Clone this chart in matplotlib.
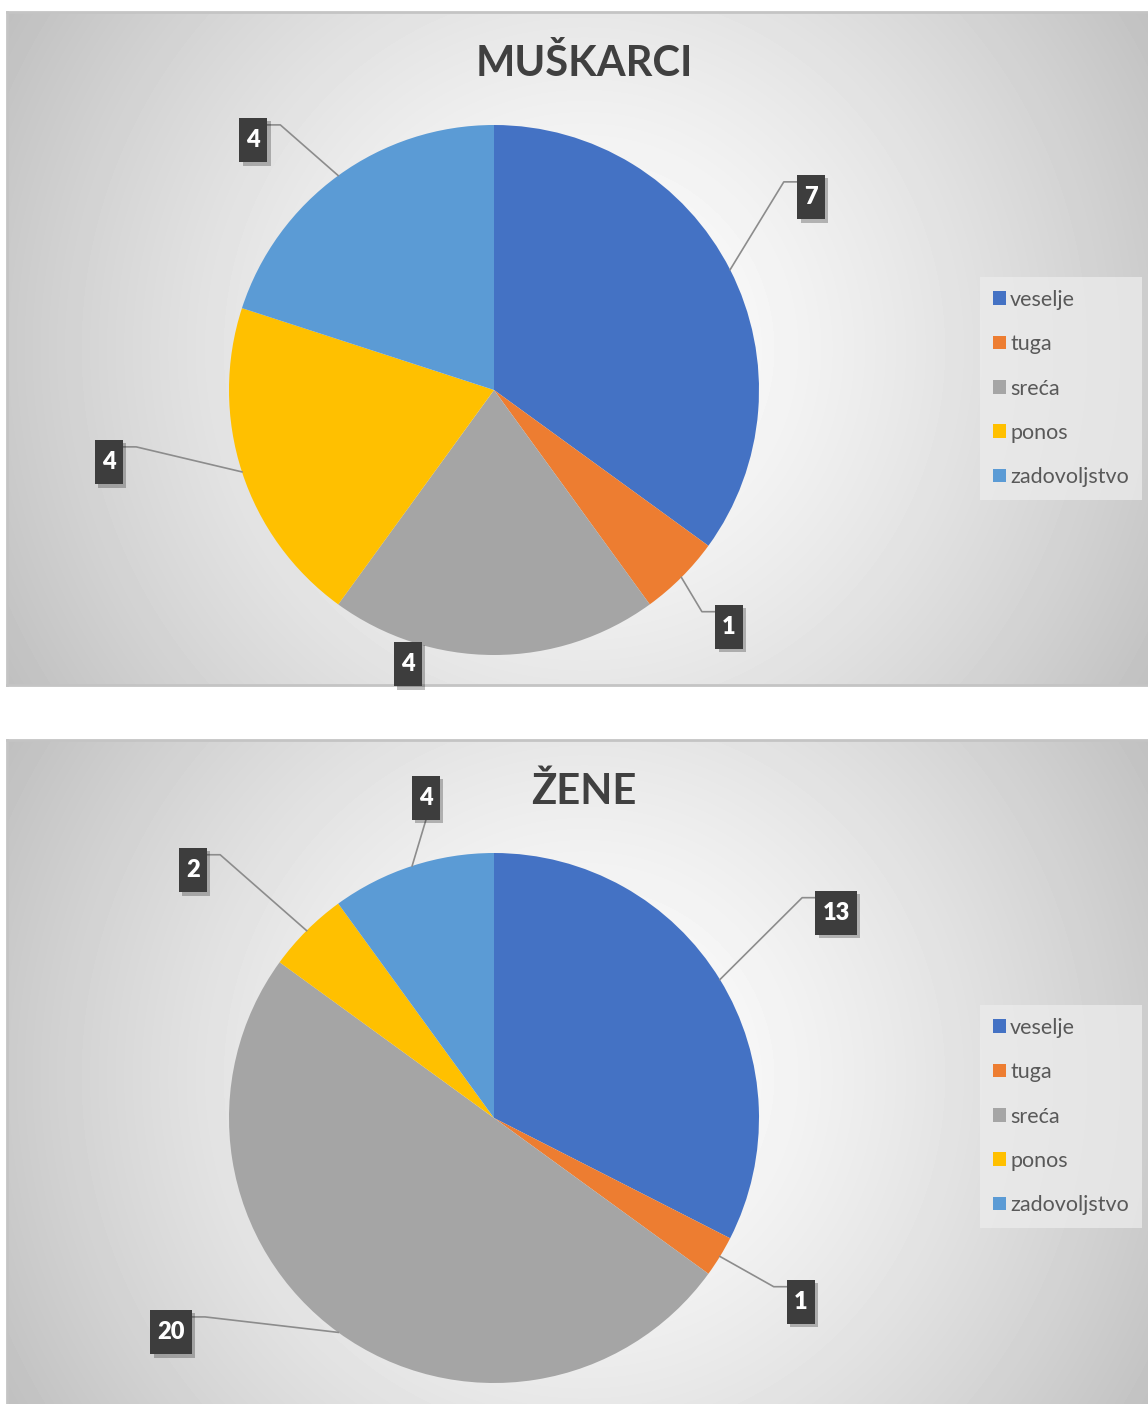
import numpy as np
import matplotlib
matplotlib.use('Agg')
import matplotlib.pyplot as plt
import matplotlib.patheffects as pe
from matplotlib.path import Path

# data
categories = ['veselje', 'tuga', 'sreća', 'ponos', 'zadovoljstvo']
muskarci = [7, 1, 4, 4, 4]
zene = [13, 1, 20, 2, 4]
colors = ['#4472C4', '#ED7D31', '#A5A5A5', '#FFC000', '#5B9BD5']

# label placement, in units of pie radius (layout only)
m_label_pos = [(1.196, 0.728), (0.887, -0.894), (-0.325, -1.034), (-1.453, -0.272), (-0.909, 0.943)]
m_leader = [True, True, False, True, True]
z_label_pos = [(1.291, 0.774), (1.158, -0.694), (-1.219, -0.808), (-1.136, 0.936), (-0.257, 1.208)]
z_leader = [True, True, True, True, True]

W, H = 1148, 1404
fig = plt.figure(figsize=(W / 100, H / 100), dpi=100)


def px_axes(x0, y0, x1, y1):
    return fig.add_axes([x0 / W, 1 - y1 / H, (x1 - x0) / W, (y1 - y0) / H])


def label_box(x0, y0, width, height, mutation_size):
    # taller than wide padding, like the excel data callouts
    px = 0.3 * mutation_size
    py = 0.47 * mutation_size
    return Path([(x0 - px, y0 - py), (x0 + width + px, y0 - py),
                 (x0 + width + px, y0 + height + py), (x0 - px, y0 + height + py),
                 (x0 - px, y0 - py)], closed=True)


def background(x0, y0, x1, y1):
    ax = px_axes(x0, y0, x1, y1)
    w = x1 - x0
    h = y1 - y0
    yy, xx = np.mgrid[0:h, 0:w]
    d = np.hypot(xx - w / 2, yy - h / 2) / np.hypot(w / 2, h / 2)
    g = 1 - 0.25 * d ** 1.4
    ax.imshow(g, cmap='gray', vmin=0, vmax=1, extent=(0, w, h, 0),
              aspect='auto', interpolation='bilinear')
    ax.set_xlim(0, w)
    ax.set_ylim(h, 0)
    ax.set_xticks([])
    ax.set_yticks([])
    for s in ax.spines.values():
        s.set_color('#c4c4c4')
        s.set_linewidth(2)
    return ax


labels_to_link = []


def draw_panel(dy, values, title, label_pos, leader_on):
    background(7, 12 + dy, 1161, 685 + dy)
    fig.text(584 / W, 1 - (64 + dy) / H, title, ha='center', va='center',
             fontsize=30, fontweight='bold', color='#404040', family='Lato')
    cx, cy, r = 494, 390 + dy, 265
    ax = px_axes(cx - r, cy - r, cx + r, cy + r)
    wedges, _ = ax.pie(values, colors=colors, startangle=90, counterclock=False,
                       radius=1, wedgeprops=dict(linewidth=0))
    ax.set_xlim(-1, 1)
    ax.set_ylim(-1, 1)
    ax.set_aspect('equal')
    ax.axis('off')
    for w, v, (lx, ly), lead in zip(wedges, values, label_pos, leader_on):
        t = ax.text(lx, ly, str(v), ha='center', va='center', fontsize=17,
                    fontweight='heavy', color='white', family='Lato', zorder=5,
                    clip_on=False,
                    bbox=dict(boxstyle=label_box, facecolor='#3d3d3d',
                              edgecolor='none'))
        t.get_bbox_patch().set_path_effects([
            pe.SimplePatchShadow(offset=(2.5, -2.5), shadow_rgbFace='black', alpha=0.25),
            pe.Normal()])
        if lead:
            mid = np.deg2rad((w.theta1 + w.theta2) / 2)
            labels_to_link.append((ax, t, np.cos(mid), np.sin(mid), lx, ly))

    leg = fig.legend(wedges, categories, loc='upper left',
                     bbox_to_anchor=(980 / W, 1 - (277 + dy) / H),
                     frameon=True, fancybox=False, prop=dict(family='Lato', size=15.5),
                     labelspacing=1.13, handlelength=0.6, handleheight=0.6,
                     handletextpad=0.2, borderpad=0.6, borderaxespad=0)
    leg.get_frame().set_facecolor('#ececec')
    leg.get_frame().set_alpha(0.75)
    leg.get_frame().set_edgecolor('none')
    for txt in leg.get_texts():
        txt.set_color('#595959')


draw_panel(0, muskarci, 'MUŠKARCI', m_label_pos, m_leader)
draw_panel(728, zene, 'ŽENE', z_label_pos, z_leader)

# leader lines, need the label box sizes first
fig.canvas.draw()
for ax, t, ex, ey, lx, ly in labels_to_link:
    bb = t.get_bbox_patch().get_window_extent().transformed(ax.transData.inverted())
    hw = bb.width / 2
    hh = bb.height / 2
    if abs(lx - ex) > hw + 0.05:
        ax_ = lx - hw if lx > ex else lx + hw
        ay_ = ly + hh - 0.026
        kx = ax_ - 0.05 if lx > ex else ax_ + 0.05
        xs = [ex, kx, ax_]
        ys = [ey, ay_, ay_]
    else:
        ay_ = ly - hh if ly > ey else ly + hh
        xs = [ex, lx]
        ys = [ey, ay_]
    ax.plot(xs, ys, color='#8c8c8c', lw=1.2, clip_on=False, zorder=4)

fig.savefig('out.png', dpi=100)
